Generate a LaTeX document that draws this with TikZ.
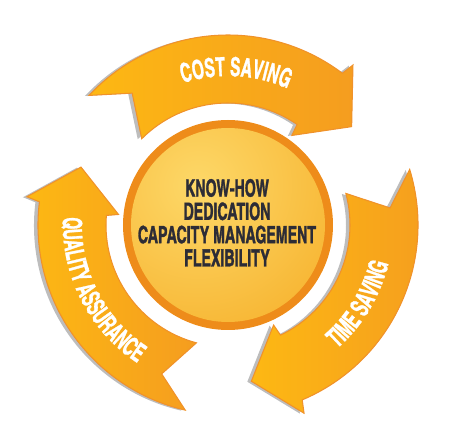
\documentclass[tikz,border=0pt]{standalone}
\usepackage{fontspec}
\usepackage{tikz}
\usetikzlibrary{calc, decorations.text}
\usepackage{xcolor}
\newfontfamily\cnfont[FakeStretch=0.73, FakeBold=1.2]{texgyreheroscn-bold.otf}
\newfontfamily\arrowfont[FakeStretch=0.72, FakeBold=1]{texgyreheroscn-bold.otf}
\definecolor{arrowlight}{HTML}{FDB813}
\definecolor{arrowdark}{HTML}{F59D1F}
\definecolor{arrowedge}{HTML}{F0922A}
\definecolor{arrowback}{HTML}{BDBDBD}
\definecolor{ballrim}{HTML}{EE8C1A}
\definecolor{balllight}{HTML}{FDD868}
\definecolor{ballmid}{HTML}{F7B532}
\definecolor{balltext}{HTML}{2C2C36}
\tikzset{cyclebody/.style={draw=arrowedge, line width=0.6pt, left color=arrowlight, right color=arrowdark}}
\tikzset{cycleback/.style={fill=arrowback}}
\tikzset{balllabel/.style={font=\cnfont\fontsize{13.5}{15}\selectfont, text=balltext, inner sep=0pt}}
\tikzset{cyclelabel/.style={decorate, decoration={text along path, text align=center, text color=white,
  text={|\arrowfont\fontsize{15}{17}\selectfont|#1}}}}

\begin{document}
\begin{tikzpicture}[x=0.02cm, y=0.02cm]
  \useasboundingbox (-228,-222) rectangle (230,225);

  % the three arrows
  \foreach \rot in {0,-120,-240} {
    \begin{scope}[shift={(-4,-0.5)}, rotate=\rot]
      \path[cycleback] (137:190) arc[start angle=137, end angle=53, radius=190]
        -- (52:203) -- (38.5:158) -- (54.5:110) -- (55.5:122)
        arc[start angle=55.5, end angle=135, radius=122] -- (126:163) -- cycle;
    \end{scope}
    \begin{scope}[rotate=\rot]
      \path[cyclebody] (137:190) arc[start angle=137, end angle=53, radius=190]
        -- (52:203) -- (38.5:158) -- (54.5:110) -- (55.5:122)
        arc[start angle=55.5, end angle=135, radius=122] -- (126:163) -- cycle;
    \end{scope}
  }

  % labels on the arrows
  \path[cyclelabel=COST SAVING] (127:149) arc[start angle=127, end angle=47, radius=149];
  \path[cyclelabel=TIME SAVING] (-71:165) arc[start angle=-71, end angle=9, radius=165];
  \path[cyclelabel=QUALITY ASSURANCE] (162:165) arc[start angle=162, end angle=252, radius=165];

  % ball in the middle
  \coordinate (ball) at (0,0);
  \fill[ballrim] (ball) circle[radius=105];
  \begin{scope}
    \clip (ball) circle[radius=97];
    \shade[inner color=balllight, outer color=ballmid] ($(ball)+(-30,40)$) circle[radius=160];
  \end{scope}

  \node[balllabel] (knowhow) at ($(ball)+(-1,37)$) {KNOW-HOW};
  \node[balllabel] (dedication) at ($(knowhow)-(0,23.3)$) {DEDICATION};
  \node[balllabel] (capacity) at ($(dedication)-(0,23.3)$) {CAPACITY MANAGEMENT};
  \node[balllabel] (flexibility) at ($(capacity)-(0,23.3)$) {FLEXIBILITY};
\end{tikzpicture}
\end{document}
